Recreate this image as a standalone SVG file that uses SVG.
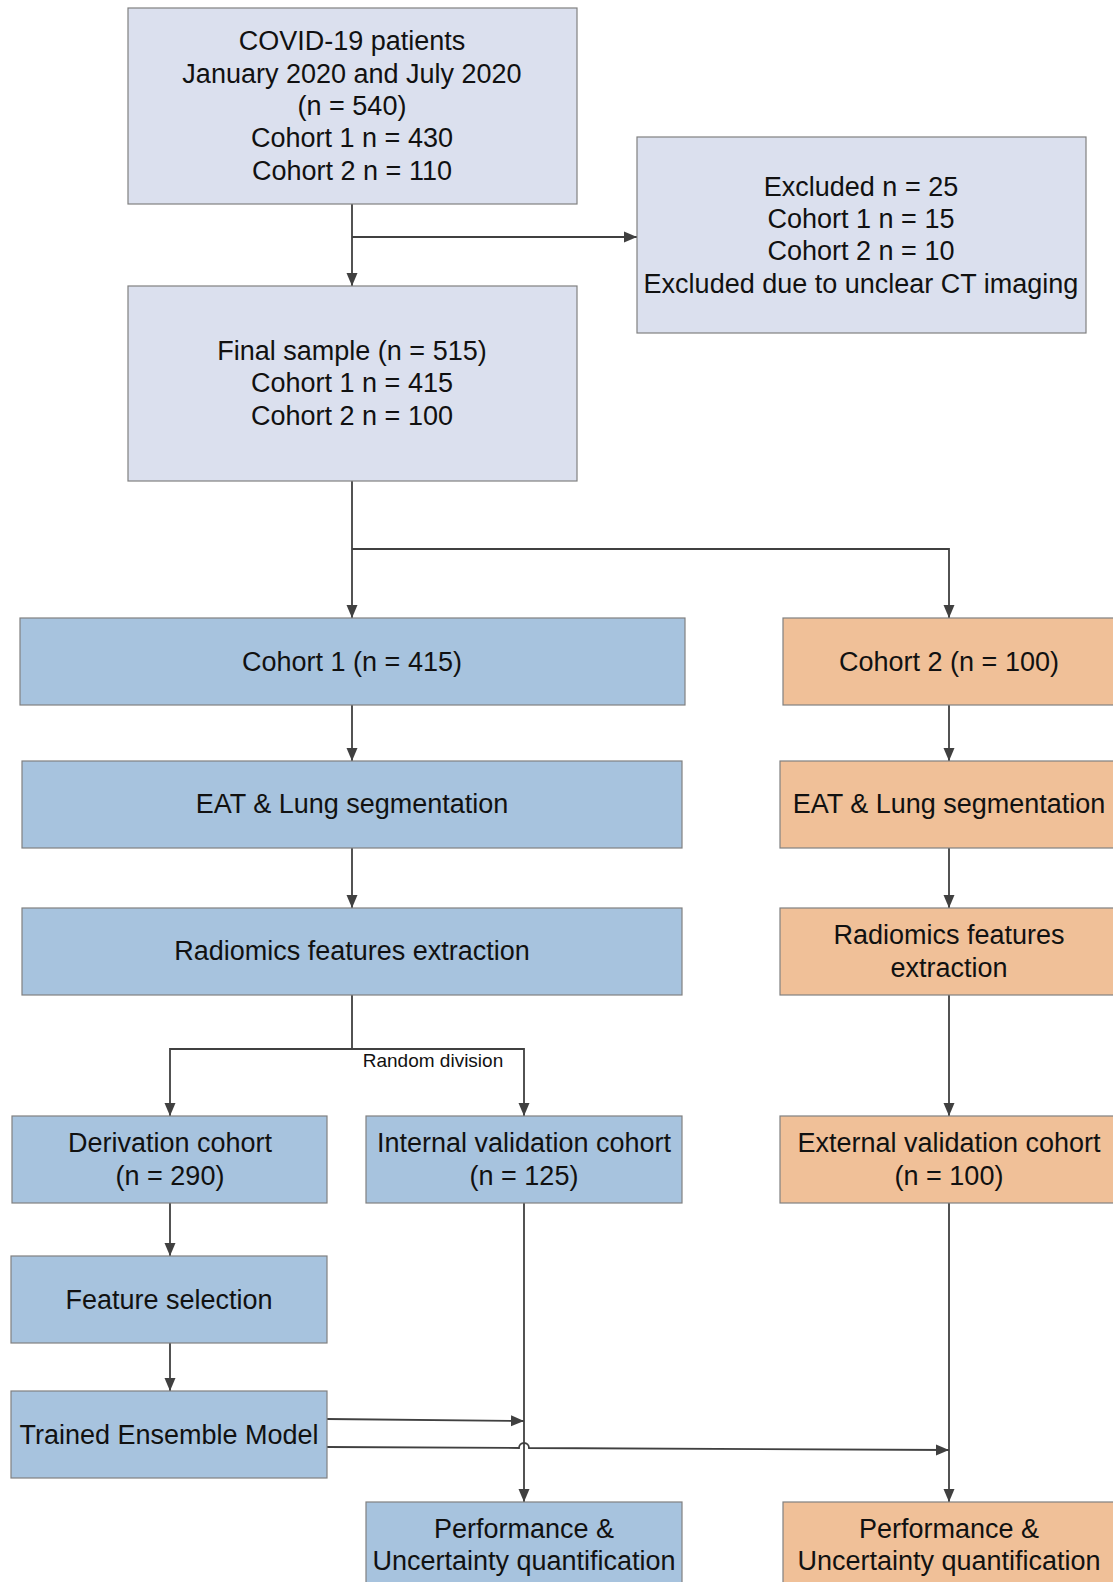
<svg xmlns="http://www.w3.org/2000/svg" width="1113" height="1582" viewBox="0 0 1113 1582">
<defs>
<style>
.box{stroke:#808080;stroke-width:1.2}
.lav{fill:#DBE0EE}
.blue{fill:#A7C3DE}
.orange{fill:#F0C098}
text{font-family:"Liberation Sans",Arial,sans-serif;font-size:27px;fill:#111;text-anchor:middle}
.small{font-size:19px}
.conn{fill:none;stroke:#404040;stroke-width:1.8}
</style>
<marker id="ah" viewBox="0 0 13 13" refX="13" refY="6.5" markerWidth="13" markerHeight="13" markerUnits="userSpaceOnUse" orient="auto">
<path d="M0,1 L13,6.5 L0,12 Z" fill="#404040"/>
</marker>
</defs>
<rect width="1113" height="1582" fill="#ffffff"/>

<g id="connectors">
<path class="conn" d="M352,204 V286" marker-end="url(#ah)"/>
<path class="conn" d="M352,237 H637" marker-end="url(#ah)"/>
<path class="conn" d="M352,481 V618" marker-end="url(#ah)"/>
<path class="conn" d="M352,549 H949 V618" marker-end="url(#ah)"/>
<path class="conn" d="M352,705 V761" marker-end="url(#ah)"/>
<path class="conn" d="M352,848 V908" marker-end="url(#ah)"/>
<path class="conn" d="M949,705 V761" marker-end="url(#ah)"/>
<path class="conn" d="M949,848 V908" marker-end="url(#ah)"/>
<path class="conn" d="M949,995 V1116" marker-end="url(#ah)"/>
<path class="conn" d="M352,995 V1049 H170 V1116" marker-end="url(#ah)"/>
<path class="conn" d="M352,1049 H524 V1116" marker-end="url(#ah)"/>
<path class="conn" d="M170,1203 V1256" marker-end="url(#ah)"/>
<path class="conn" d="M170,1343 V1391" marker-end="url(#ah)"/>
<path class="conn" d="M524,1203 V1502" marker-end="url(#ah)"/>
<path class="conn" d="M949,1203 V1502" marker-end="url(#ah)"/>
<path class="conn" d="M327,1419 L524,1421" marker-end="url(#ah)"/>
<path class="conn" d="M327,1447 L519,1448 A5,5 0 0 1 529,1448 L949,1450" marker-end="url(#ah)"/>
<text class="small" x="433" y="1067">Random division</text>
</g>

<g id="n-covid">
<rect class="box lav" x="128" y="8" width="449" height="196"/>
<text x="352" y="50">COVID-19 patients</text>
<text x="352" y="83">January 2020 and July 2020</text>
<text x="352" y="115">(n = 540)</text>
<text x="352" y="147">Cohort 1 n = 430</text>
<text x="352" y="180">Cohort 2 n = 110</text>
</g>

<g id="n-excluded">
<rect class="box lav" x="637" y="137" width="449" height="196"/>
<text x="861" y="196">Excluded n = 25</text>
<text x="861" y="228">Cohort 1 n = 15</text>
<text x="861" y="260">Cohort 2 n = 10</text>
<text x="861" y="293">Excluded due to unclear CT imaging</text>
</g>

<g id="n-final">
<rect class="box lav" x="128" y="286" width="449" height="195"/>
<text x="352" y="360">Final sample (n = 515)</text>
<text x="352" y="392">Cohort 1 n = 415</text>
<text x="352" y="425">Cohort 2 n = 100</text>
</g>

<g id="n-cohort1">
<rect class="box blue" x="20" y="618" width="665" height="87"/>
<text x="352" y="671">Cohort 1 (n = 415)</text>
</g>

<g id="n-cohort2">
<rect class="box orange" x="783" y="618" width="340" height="87"/>
<text x="949" y="671">Cohort 2 (n = 100)</text>
</g>

<g id="n-eat1">
<rect class="box blue" x="22" y="761" width="660" height="87"/>
<text x="352" y="813">EAT &amp; Lung segmentation</text>
</g>

<g id="n-eat2">
<rect class="box orange" x="780" y="761" width="343" height="87"/>
<text x="949" y="813">EAT &amp; Lung segmentation</text>
</g>

<g id="n-rad1">
<rect class="box blue" x="22" y="908" width="660" height="87"/>
<text x="352" y="960">Radiomics features extraction</text>
</g>

<g id="n-rad2">
<rect class="box orange" x="780" y="908" width="343" height="87"/>
<text x="949" y="944">Radiomics features</text>
<text x="949" y="977">extraction</text>
</g>

<g id="n-deriv">
<rect class="box blue" x="12" y="1116" width="315" height="87"/>
<text x="170" y="1152">Derivation cohort</text>
<text x="170" y="1185">(n = 290)</text>
</g>

<g id="n-internal">
<rect class="box blue" x="366" y="1116" width="316" height="87"/>
<text x="524" y="1152">Internal validation cohort</text>
<text x="524" y="1185">(n = 125)</text>
</g>

<g id="n-external">
<rect class="box orange" x="780" y="1116" width="343" height="87"/>
<text x="949" y="1152">External validation cohort</text>
<text x="949" y="1185">(n = 100)</text>
</g>

<g id="n-feature">
<rect class="box blue" x="11" y="1256" width="316" height="87"/>
<text x="169" y="1309">Feature selection</text>
</g>

<g id="n-trained">
<rect class="box blue" x="11" y="1391" width="316" height="87"/>
<text x="169" y="1444">Trained Ensemble Model</text>
</g>

<g id="n-perf1">
<rect class="box blue" x="366" y="1502" width="316" height="90"/>
<text x="524" y="1538">Performance &amp;</text>
<text x="524" y="1570">Uncertainty quantification</text>
</g>

<g id="n-perf2">
<rect class="box orange" x="783" y="1502" width="340" height="90"/>
<text x="949" y="1538">Performance &amp;</text>
<text x="949" y="1570">Uncertainty quantification</text>
</g>
</svg>
